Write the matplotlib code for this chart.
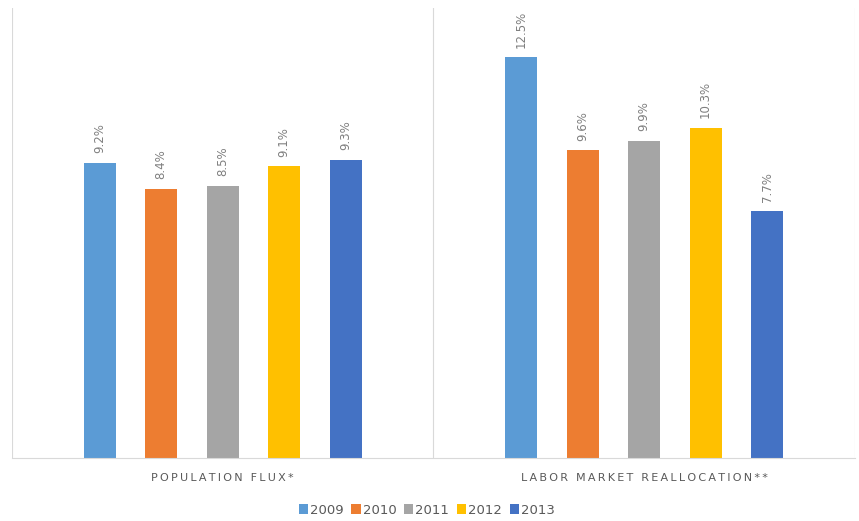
import numpy as np
import matplotlib.pyplot as plt

categories = ['POPULATION FLUX*', 'LABOR MARKET REALLOCATION**']
years = ['2009', '2010', '2011', '2012', '2013']
values = {
    '2009': [9.2, 12.5],
    '2010': [8.4, 9.6],
    '2011': [8.5, 9.9],
    '2012': [9.1, 10.3],
    '2013': [9.3, 7.7],
}
colors = ['#5B9BD5', '#ED7D31', '#A5A5A5', '#FFC000', '#4472C4']


def spaced(s):
    '''Excel-like letter spacing'''
    return '\u2009'.join(s)


fig = plt.figure(figsize=(8.59, 5.21), dpi=100)
ax = fig.add_axes([0.014, 0.121, 0.981, 0.864])

x = np.arange(len(categories))
step = 0.146
width = 0.076
for i, yr in enumerate(years):
    pos = x + (i - 2) * step
    bars = ax.bar(pos, values[yr], width, color=colors[i], label=yr, zorder=2)
    for b, v in zip(bars, values[yr]):
        ax.annotate(f'{v:.1f}%', (b.get_x() + b.get_width() / 2, v),
                    xytext=(0, 7), textcoords='offset points',
                    rotation=90, ha='center', va='bottom',
                    fontsize=8.5, color='#7F7F7F')

ax.set_xlim(-0.5, 1.5)
ax.set_ylim(0, 14.05)
ax.set_yticks([])
ax.set_xticks(x)
ax.set_xticklabels([spaced(c) for c in categories], fontsize=8, color='#595959')
ax.tick_params(axis='x', length=0, pad=11)

# category separators
for xv in [-0.5, 0.5, 1.5]:
    ax.axvline(xv, color='#D9D9D9', lw=0.8, zorder=1)

for s in ['top', 'left', 'right']:
    ax.spines[s].set_visible(False)
ax.spines['bottom'].set_color('#D9D9D9')

leg = fig.legend(loc='center', bbox_to_anchor=(0.497, 0.021), ncol=5, frameon=False,
                 fontsize=9.5, handlelength=0.7, handleheight=0.7,
                 handletextpad=0.15, columnspacing=0.6)
for t in leg.get_texts():
    t.set_color('#595959')

fig.savefig('out.png', dpi=100)
